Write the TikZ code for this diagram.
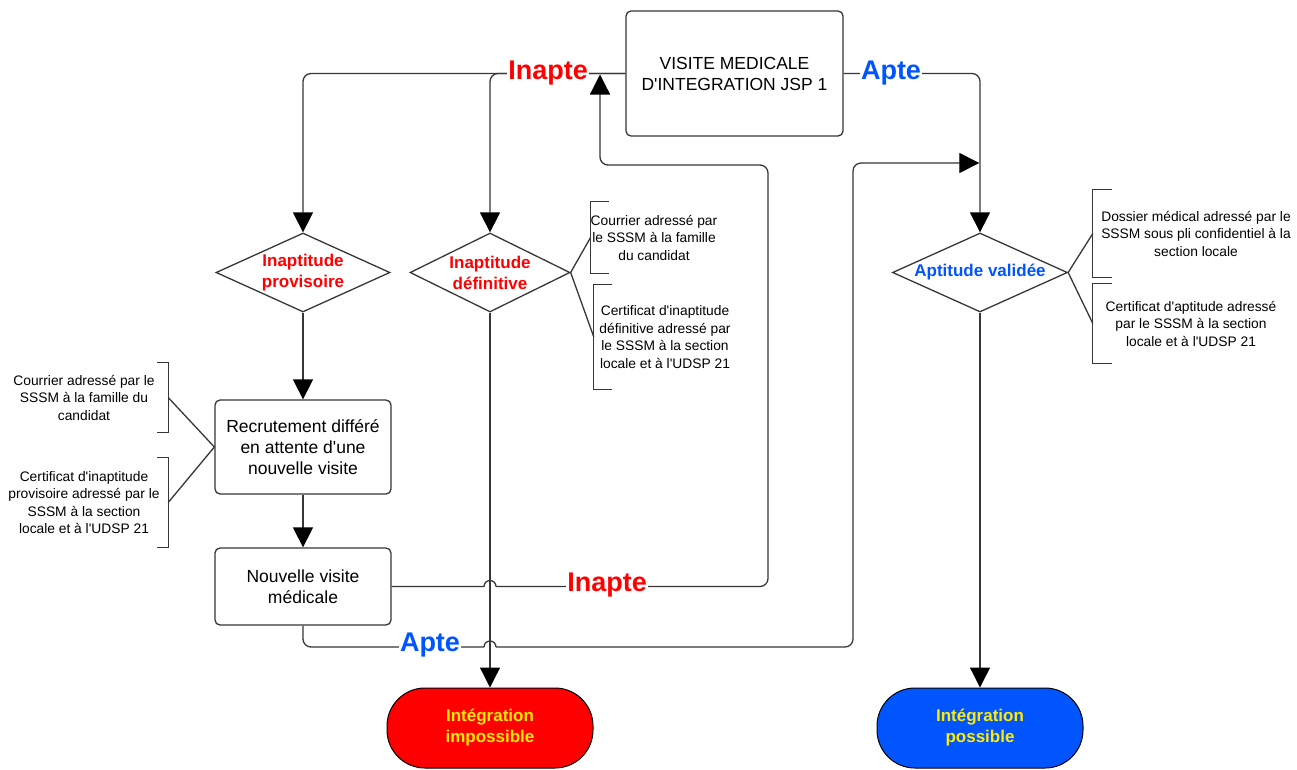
\documentclass[tikz,border=0pt]{standalone}
\usepackage{fontspec}
\setmainfont{Liberation Sans}[Ligatures=TeXOff]
\usetikzlibrary{shapes.geometric,arrows.meta}
\definecolor{myred}{RGB}{255,0,0}
\definecolor{myblue}{RGB}{0,85,255}
\definecolor{myyellow}{RGB}{255,235,0}
\definecolor{ln}{RGB}{55,55,55}
\begin{document}
\begin{tikzpicture}[x=1pt,y=-1pt,
 box/.style={draw=ln, line width=1.3pt, rounded corners=5pt, align=center, inner sep=0pt, font=\fontsize{17.5}{21}\selectfont},
 dia/.style={draw=ln, line width=1.3pt, diamond, aspect=2, inner sep=0pt, align=center, font=\fontsize{17}{21}\selectfont\bfseries, minimum height=79pt},
 term/.style={draw=black, line width=1pt, rounded corners=38pt, minimum width=206pt, minimum height=80pt, align=center, text=myyellow, font=\fontsize{17}{21}\selectfont\bfseries},
 ann/.style={inner sep=0pt, align=center, font=\fontsize{13.8}{17.5}\selectfont},
 lbl/.style={fill=white, inner sep=1pt, font=\fontsize{27}{30}\selectfont\bfseries},
 conn/.style={ln, line width=1.3pt},
 arr/.style={conn, -{Triangle[width=20pt,length=20pt,black]}},
 brk/.style={ln, line width=1.3pt},
]
\useasboundingbox[fill=white] (0,0) rectangle (1297,769);

% main nodes
\node[box, minimum width=217pt, minimum height=125pt] (visite) at (734.5,73.5) {VISITE MEDICALE\\D'INTEGRATION JSP 1};
\node[dia, text=myred, minimum width=174pt] (d1) at (303,272.5) {Inaptitude\\provisoire};
\node[dia, text=myred, minimum width=160pt] (d2) at (490,272.5) {Inaptitude\\définitive};
\node[dia, text=myblue, aspect=2.4, minimum width=175pt] (d3) at (980,272.5) {Aptitude validée};
\node[box, minimum width=176pt, minimum height=94pt] (recrut) at (303,447) {Recrutement différé\\en attente d'une\\nouvelle visite};
\node[box, minimum width=176pt, minimum height=77pt] (nouv) at (303,586.5) {Nouvelle visite\\médicale};
\node[term, fill=myred] (imp) at (490,728) {Intégration\\impossible};
\node[term, fill=myblue] (pos) at (980,728) {Intégration\\possible};

% annotations
\node[ann, minimum width=120pt, minimum height=71pt] (a21) at (654,237.5) {Courrier adressé par\\le SSSM à la famille\\du candidat};
\node[ann, minimum width=142pt, minimum height=104pt] (a22) at (665,337) {Certificat d'inaptitude\\définitive adressé par\\le SSSM à la section\\locale et à l'UDSP 21};
\node[ann, minimum width=206pt, minimum height=87pt] (a31) at (1196,233.5) {Dossier médical adressé par le\\SSSM sous pli confidentiel à la\\section locale};
\node[ann, minimum width=196pt, minimum height=79pt] (a32) at (1191,323.5) {Certificat d'aptitude adressé\\par le SSSM à la section\\locale et à l'UDSP 21};
\node[ann, minimum width=168pt, minimum height=69pt] (l1) at (84,397.5) {Courrier adressé par le\\SSSM à la famille du\\candidat};
\node[ann, minimum width=168pt, minimum height=89pt] (l2) at (84,502.5) {Certificat d'inaptitude\\provisoire adressé par le\\SSSM à la section\\locale et à l'UDSP 21};

% brackets
\foreach \a/\t in {a21/18pt,a22/18pt,a31/19pt,a32/19pt}{
  \draw[brk] ([xshift=\t]\a.north west) -- (\a.north west) -- (\a.south west) -- ([xshift=\t]\a.south west);
}
\foreach \a in {l1,l2}{
  \draw[brk] ([xshift=-11pt]\a.north east) -- (\a.north east) -- (\a.south east) -- ([xshift=-11pt]\a.south east);
}
\draw[conn] (d2.east) -- (a21.west);
\draw[conn] (d2.east) -- (a22.west);
\draw[conn] (d3.east) -- (a31.west);
\draw[conn] (d3.east) -- (a32.west);
\draw[conn] (recrut.west) -- (l1.east);
\draw[conn] (recrut.west) -- (l2.east);

% flows
\draw[arr, rounded corners=8pt] (visite.west) -| (d1.north);
\draw[arr, rounded corners=8pt] (visite.west) -| (d2.north);
\draw[arr, rounded corners=8pt] (visite.east) -| (d3.north);
\draw[arr] (d1.south) -- (recrut.north);
\draw[arr] (recrut.south) -- (nouv.north);
\draw[arr] (d2.south) -- (imp.north);
\draw[arr] (d3.south) -- (pos.north);

% Inapte loop from Nouvelle visite
\coordinate (jA) at (d2.south |- nouv.east);
\coordinate (turnA) at (768,165);
\coordinate (tipA) at (600,74.5);
\draw[conn] (nouv.east) -- ([xshift=-6pt]jA) arc[start angle=180,end angle=0,radius=6pt];
\draw[arr, rounded corners=8pt] ([xshift=6pt]jA) -| (turnA) -| (tipA);

% Apte loop from Nouvelle visite
\coordinate (jB) at (490,647);
\coordinate (turnB) at (853,163);
\coordinate (tipB) at (979.3,163);
\draw[conn, rounded corners=8pt] (nouv.south) |- ([xshift=-6pt]jB);
\draw[conn] ([xshift=-6pt]jB) arc[start angle=180,end angle=0,radius=6pt];
\draw[arr, rounded corners=8pt] ([xshift=6pt]jB) -| (turnB) -- (tipB);

% labels
\node[lbl, text=myred] (inapte1) at (548,73.5) {Inapte};
\node[lbl, text=myblue] (apte1) at (891,73.5) {Apte};
\node[lbl, text=myred] (inapte2) at (607,585) {Inapte};
\node[lbl, text=myblue] (apte2) at (430,645) {Apte};
\end{tikzpicture}
\end{document}
